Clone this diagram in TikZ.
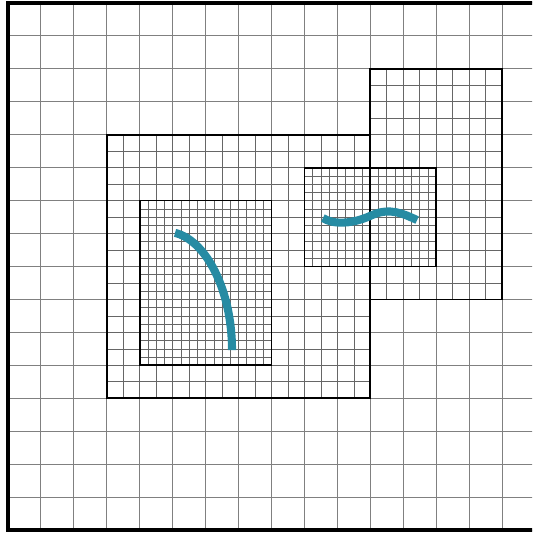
\documentclass[tikz,border=0pt]{standalone}
\usepackage{xcolor}
\usepackage{tikz}
\definecolor{curveteal}{RGB}{38,139,163}

\begin{document}
\begin{tikzpicture}[
    coarse/.style={draw=black!50, line width=0.9pt},
    fine/.style={draw=black!60, line width=0.6pt},
    patch/.style={draw=black, line width=1.5pt},
    front/.style={draw=curveteal, line width=7pt}
]
\useasboundingbox (-0.243,-0.09) rectangle (15.91,16.09);
\clip (-0.243,-0.09) rectangle (15.91,16.09);
% base level
\draw[coarse, step=1] (0,0) grid (16,16);
% level 1 patches
\draw[fine, step=0.5] (3,4) grid (11,12);
\draw[fine, step=0.5] (11,7) grid (15,14);
% level 2 patches
\draw[fine, step=0.25] (4,5) grid (8,10);
\draw[fine, step=0.25] (9,8) grid (13,11);
% patch outlines
\draw[patch] (3,4) rectangle (11,12);
\draw[patch] (11,7) rectangle (15,14);
\draw[patch] (4,5) rectangle (8,10);
\draw[patch] (9,8) rectangle (13,11);
% domain border
\draw[black, line width=3.2pt] (0,0) rectangle (16,16);
% fronts
\draw[front] (5.07,9.02) .. controls (6.0,8.8) and (6.8,7.3) .. (6.80,5.46);
\draw[front] (9.56,9.47) .. controls (9.9,9.25) and (10.5,9.3) .. (11.05,9.56)
             .. controls (11.6,9.8) and (12.0,9.6) .. (12.42,9.41);
\end{tikzpicture}
\end{document}
